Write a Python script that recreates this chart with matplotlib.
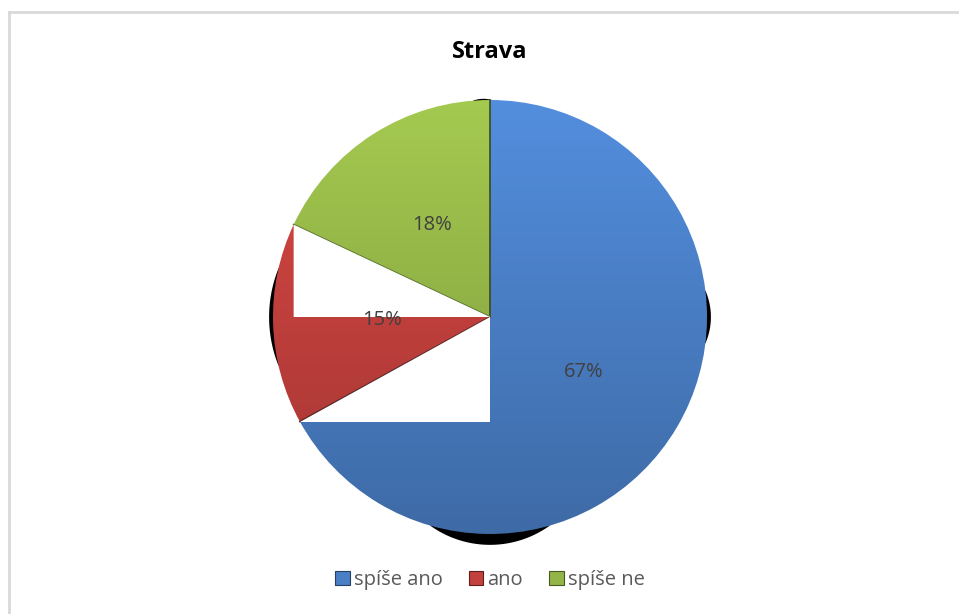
import numpy as np
import matplotlib
matplotlib.use("Agg")
import matplotlib.pyplot as plt
from matplotlib.patches import Polygon, Patch
from matplotlib.colors import to_rgb

labels = ["spíše ano", "ano", "spíše ne"]
values = [67, 15, 18]
colors = ["#4A7FC6", "#C2403D", "#93B447"]
title = "Strava"

plt.rcParams['font.family'] = ['Open Sans', 'DejaVu Sans']

W, H = 959, 614
fig = plt.figure(figsize=(W / 100, H / 100), dpi=100)

# pie centre and radius in pixels
cx, cy, rad = 490, 317, 217
lim = 1.15
ax = fig.add_axes([(cx - rad * lim) / W, (H - cy - rad * lim) / H,
                   2 * rad * lim / W, 2 * rad * lim / H])

wedges, _, autotexts = ax.pie(values, colors=colors, startangle=90,
                              counterclock=False, radius=1,
                              autopct="%d%%", pctdistance=0.5,
                              textprops=dict(color="#404040", fontsize=14.5),
                              wedgeprops=dict(linewidth=0))
ax.set_xlim(-lim, lim)
ax.set_ylim(-lim, lim)
ax.set_aspect("equal")
ax.axis("off")

# vertical shading inside each slice
yy = np.linspace(1, -1, 256)[:, None] * np.ones((1, 2))
for w, c in zip(wedges, colors):
    base = np.array(to_rgb(c))
    light = np.clip(base * 1.12, 0, 1)
    dark = base * 0.84
    t = (yy + 1) / 2
    img = dark[None, None, :] * (1 - t[..., None]) + light[None, None, :] * t[..., None]
    im = ax.imshow(img, extent=(-1, 1, -1, 1), zorder=1, interpolation="bilinear")
    im.set_clip_path(w)
    w.set_facecolor("none")
    w.set_edgecolor("none")
    w.set_zorder(2)

# boundary points between slices
frac = np.cumsum(values) / np.sum(values)
th1 = np.deg2rad(90 - 360 * frac[0])
th2 = np.deg2rad(90 - 360 * frac[1])
p1 = (np.cos(th1), np.sin(th1))
p2 = (np.cos(th2), np.sin(th2))

# darker seams along the slice boundaries
for p, c in [((0, 1), "#3a4a20"), (p1, "#5a2a28"), (p2, "#55702a")]:
    ax.plot([0, p[0]], [0, p[1]], color=c, lw=1.2, zorder=2.5)

ax.add_patch(Polygon([p2, (0, 0), (p2[0], 0)], closed=True,
                     fc="white", ec="none", zorder=3))
ax.add_patch(Polygon([(0, 0), (0, p1[1]), p1], closed=True,
                     fc="white", ec="none", zorder=3))


# black shadow slivers around the rim
def sliver(mid, span, thick):
    a = np.linspace(mid - span, mid + span, 60)
    d = 1 - ((a - mid) / span) ** 2
    outer = 1.0 + thick * d
    ad = np.deg2rad(a)
    xs = np.concatenate([np.cos(ad) * outer, np.cos(ad[::-1]) * 0.995])
    ys = np.concatenate([np.sin(ad) * outer, np.sin(ad[::-1]) * 0.995])
    ax.add_patch(Polygon(np.column_stack([xs, ys]), closed=True,
                         fc="black", ec="none", zorder=0))


sliver(-90, 16, 0.05)
sliver(180, 13, 0.018)
sliver(0, 7, 0.018)
sliver(92, 2.5, 0.006)

for t in autotexts:
    t.set_zorder(5)

fig.text(cx / W, 1 - 52 / H, title, ha="center", va="center",
         fontsize=17, fontweight="bold", color="black")

# outer chart frame (top and left edges visible)
fig.add_artist(plt.Line2D([9 / W, 1], [1 - 11.5 / H] * 2, color="#d9d9d9", lw=2))
fig.add_artist(plt.Line2D([9 / W] * 2, [0, 1 - 11.5 / H], color="#d9d9d9", lw=2))

handles = [Patch(facecolor=c, edgecolor=tuple(np.array(to_rgb(c)) * 0.5), lw=0.8)
           for c in colors]
leg = fig.legend(handles, labels, loc="center", ncol=3,
                 bbox_to_anchor=(cx / W, 1 - 580 / H), frameon=False,
                 handlelength=0.72, handleheight=0.72, handletextpad=0.2,
                 columnspacing=1.3, fontsize=14.5)
for t in leg.get_texts():
    t.set_color("#595959")

fig.savefig("out.png", dpi=100, facecolor="white")
